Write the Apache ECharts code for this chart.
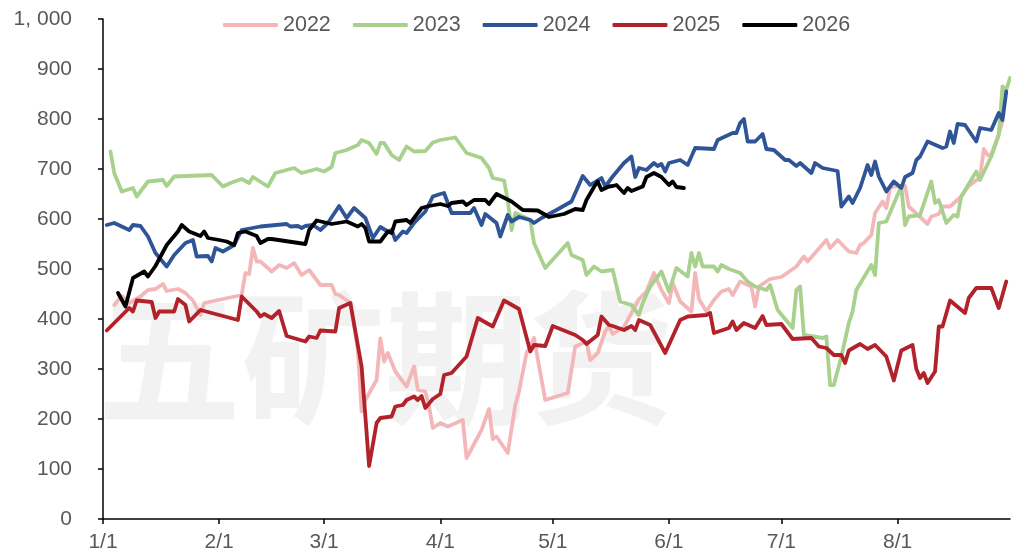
<!DOCTYPE html>
<html>
<head>
<meta charset="utf-8">
<script src="https://cdn.jsdelivr.net/npm/echarts@6/dist/echarts.min.js"></script>
<style>
  html, body { margin: 0; padding: 0; background: #fff; }
  #chart { width: 1011px; height: 555px; }
</style>
</head>
<body>
<div id="chart"></div>
<script>
// all years drawn on a common 2026 calendar, dates are month/day
var years = ['2022', '2023', '2024', '2025', '2026'];
var colors = ['#f4b7b9', '#a9d18e', '#2f5597', '#b2222a', '#000000'];
var monthTicks = ['1/1', '2/1', '3/1', '4/1', '5/1', '6/1', '7/1', '8/1'];

var d2022 = ['1/4','1/6','1/8','1/11','1/13','1/15','1/17','1/18','1/21','1/23','1/25','1/27','1/28','2/7','2/8','2/9','2/10','2/11','2/12','2/15','2/17','2/19','2/21','2/23','2/25','2/28','3/3','3/4','3/5','3/8','3/10','3/11','3/12','3/15','3/16','3/17','3/18','3/20','3/23','3/25','3/26','3/28','3/29','3/30','4/1','4/3','4/7','4/8','4/12','4/14','4/15','4/16','4/19','4/21','4/22','4/24','4/25','4/26','4/29','5/5','5/7','5/10','5/11','5/13','5/15','5/16','5/17','5/20','5/22','5/24','5/26','5/28','5/30','6/1','6/2','6/4','6/7','6/8','6/9','6/11','6/13','6/15','6/17','6/18','6/20','6/23','6/24','6/25','6/28','7/1','7/5','7/7','7/8','7/13','7/14','7/16','7/19','7/21','7/22','7/23','7/25','7/26','7/28','7/29','7/30','7/31','8/3','8/4','8/5','8/9','8/10','8/12','8/13','8/15','8/18','8/20','8/23','8/24','8/25','8/26','8/28','8/29'];
var v2022 = [428,446,432,445,458,460,470,456,460,452,437,408,432,448,492,490,542,515,515,495,508,502,512,488,498,468,468,450,448,432,338,215,238,278,361,315,332,295,265,305,258,255,225,182,192,185,198,122,178,220,160,165,132,228,255,332,345,362,238,252,345,355,318,332,375,385,370,384,412,440,455,492,458,432,472,435,415,492,440,415,438,455,460,448,475,465,425,465,480,484,505,525,515,558,542,558,535,532,548,552,568,612,635,622,662,665,666,625,618,590,605,610,625,625,645,666,683,740,728,728,770,795];

var d2023 = ['1/3','1/4','1/6','1/9','1/10','1/13','1/17','1/18','1/20','1/30','2/2','2/4','2/7','2/9','2/10','2/14','2/16','2/21','2/23','2/27','3/1','3/3','3/4','3/7','3/10','3/11','3/13','3/15','3/16','3/17','3/19','3/21','3/23','3/25','3/28','3/30','4/1','4/5','4/8','4/12','4/14','4/15','4/18','4/19','4/20','4/21','4/25','4/26','4/29','5/5','5/6','5/9','5/10','5/12','5/14','5/17','5/19','5/22','5/24','5/25','5/27','5/30','6/1','6/3','6/6','6/7','6/8','6/9','6/10','6/13','6/14','6/15','6/17','6/20','6/22','6/24','6/27','6/28','6/30','7/4','7/5','7/6','7/7','7/12','7/13','7/14','7/15','7/17','7/19','7/20','7/21','7/25','7/26','7/27','7/29','8/1','8/2','8/3','8/4','8/7','8/10','8/11','8/12','8/14','8/16','8/17','8/18','8/22','8/23','8/26','8/28','8/29','8/30','8/31'];
var v2023 = [735,692,655,662,645,675,678,666,685,688,665,672,680,672,684,665,692,702,692,700,695,704,732,738,748,758,752,730,752,752,728,718,745,735,736,753,758,763,732,722,702,682,677,638,578,612,598,552,502,552,528,518,488,505,495,498,435,428,408,432,465,495,455,502,485,532,505,532,505,505,495,508,500,492,475,465,458,468,418,382,458,465,368,362,365,268,268,325,392,415,458,508,488,592,595,648,665,588,605,608,675,632,638,592,608,605,645,695,678,725,768,865,858,882];

var d2024 = ['1/2','1/4','1/8','1/9','1/11','1/13','1/15','1/18','1/20','1/23','1/25','1/26','1/29','1/30','1/31','2/2','2/5','2/7','2/12','2/19','2/20','2/22','2/23','2/24','2/26','2/28','3/2','3/5','3/7','3/9','3/12','3/14','3/16','3/18','3/19','3/20','3/22','3/23','3/25','3/28','3/30','4/1','4/2','4/4','4/9','4/10','4/12','4/13','4/16','4/17','4/19','4/20','4/22','4/25','4/26','4/28','5/2','5/6','5/9','5/11','5/14','5/15','5/17','5/20','5/22','5/23','5/24','5/26','5/28','5/29','5/30','5/31','6/1','6/4','6/6','6/8','6/13','6/14','6/18','6/19','6/20','6/21','6/22','6/24','6/26','6/27','6/29','7/2','7/3','7/5','7/6','7/9','7/10','7/12','7/16','7/17','7/19','7/20','7/22','7/24','7/25','7/26','7/27','7/29','7/31','8/2','8/3','8/5','8/6','8/7','8/9','8/13','8/14','8/15','8/16','8/17','8/19','8/22','8/23','8/26','8/28','8/29','8/30'];
var v2024 = [588,592,578,588,586,565,532,505,528,552,558,525,526,515,542,535,548,578,585,590,585,586,582,586,588,578,592,626,602,622,602,562,584,575,578,558,575,572,592,615,645,650,652,612,612,622,588,610,592,565,608,595,604,598,592,602,618,635,686,668,682,665,685,712,725,684,702,698,712,706,710,695,712,718,708,742,740,758,772,772,792,800,755,755,770,740,738,718,718,706,712,692,712,702,696,625,645,632,662,708,688,715,685,655,675,662,684,692,718,725,755,742,745,775,752,790,788,755,782,778,812,798,855];

var d2025 = ['1/2','1/8','1/9','1/10','1/14','1/15','1/16','1/20','1/21','1/23','1/24','1/27','2/6','2/7','2/11','2/12','2/13','2/15','2/17','2/19','2/24','2/25','2/27','2/28','3/4','3/5','3/8','3/11','3/13','3/15','3/16','3/19','3/20','3/22','3/23','3/25','3/26','3/27','3/28','3/30','4/1','4/2','4/4','4/8','4/11','4/15','4/18','4/22','4/25','4/26','4/29','5/1','5/7','5/9','5/10','5/13','5/14','5/16','5/17','5/20','5/22','5/23','5/24','5/27','5/31','6/4','6/6','6/11','6/12','6/13','6/17','6/18','6/19','6/21','6/24','6/26','6/27','7/1','7/4','7/9','7/11','7/13','7/15','7/17','7/18','7/19','7/22','7/24','7/26','7/29','7/31','8/2','8/5','8/6','8/7','8/8','8/9','8/11','8/12','8/13','8/15','8/19','8/20','8/22','8/26','8/28','8/30'];
var v2025 = [377,422,415,437,434,402,415,415,440,428,395,418,398,445,415,405,410,402,416,366,355,365,362,377,375,422,432,305,106,192,202,205,225,228,238,245,238,246,222,240,250,288,292,325,402,385,437,420,335,348,346,386,368,358,350,368,405,388,386,378,386,378,398,388,332,398,405,408,412,372,382,395,378,392,382,406,388,390,360,362,345,342,328,328,312,337,350,340,348,325,277,337,348,300,282,292,272,295,385,385,437,412,442,462,462,422,475];

var d2026 = ['1/5','1/7','1/9','1/12','1/13','1/15','1/18','1/21','1/22','1/24','1/27','1/28','1/29','2/1','2/3','2/5','2/6','2/8','2/11','2/12','2/14','2/15','2/24','2/25','2/27','3/3','3/7','3/10','3/11','3/12','3/13','3/16','3/17','3/18','3/19','3/20','3/23','3/24','3/27','3/29','4/1','4/3','4/4','4/7','4/8','4/10','4/13','4/14','4/16','4/20','4/23','4/27','4/30','5/4','5/7','5/9','5/10','5/12','5/13','5/14','5/16','5/17','5/18','5/20','5/21','5/22','5/25','5/26','5/28','5/30','6/1','6/2','6/3','6/5'];
var v2026 = [452,425,482,495,485,506,548,575,588,575,566,575,562,558,555,548,572,575,566,552,560,560,550,578,597,590,595,585,590,582,555,555,565,575,572,595,598,592,622,626,630,626,632,635,628,638,638,630,650,635,618,617,604,610,620,618,638,664,675,658,665,666,668,652,662,656,665,684,692,684,668,675,664,662];

var dates = [d2022, d2023, d2024, d2025, d2026];
var values = [v2022, v2023, v2024, v2025, v2026];

function toTime(md) {
  var p = md.split('/');
  return +new Date(2026, +p[0] - 1, +p[1]);
}

var tickValues = monthTicks.map(toTime);
var font = '"Liberation Sans", Arial, sans-serif';

var series = years.map(function (y, i) {
  return {
    name: y,
    type: 'line',
    showSymbol: false,
    symbol: 'none',
    data: dates[i].map(function (d, k) { return [toTime(d), values[i][k]]; }),
    lineStyle: { color: colors[i], width: 3.8, cap: 'round', join: 'round' },
    itemStyle: { color: colors[i] },
    emphasis: { disabled: true }
  };
});

var chart = echarts.init(document.getElementById('chart'));
chart.setOption({
  animation: false,
  backgroundColor: '#ffffff',
  graphic: [{
    type: 'text',
    z: -10,
    silent: true,
    style: {
      text: '五矿期货',
      x: 385,
      y: 358,
      align: 'center',
      verticalAlign: 'middle',
      font: 'bold 144px "Noto Sans CJK SC"',
      fill: '#f2f2f2'
    }
  }],
  legend: {
    left: 218,
    top: 9,
    icon: 'roundRect',
    itemWidth: 55,
    itemHeight: 4,
    itemGap: 22,
    textStyle: { fontSize: 21.5, color: '#595959', fontFamily: font },
    data: years
  },
  grid: { left: 103, right: 1, top: 19, bottom: 36 },
  xAxis: {
    type: 'value',
    min: toTime('1/1'),
    max: toTime('8/31'),
    splitLine: { show: false },
    axisLine: { lineStyle: { color: '#000', width: 1.5 } },
    axisTick: { show: true, length: 5, customValues: tickValues, lineStyle: { color: '#000', width: 1.5 } },
    axisLabel: {
      customValues: tickValues,
      margin: 13,
      fontSize: 21,
      color: '#595959',
      fontFamily: font,
      formatter: function (v) {
        var d = new Date(v);
        return (d.getMonth() + 1) + '/' + d.getDate();
      }
    }
  },
  yAxis: {
    type: 'value',
    min: 0,
    max: 1000,
    interval: 100,
    splitLine: { show: false },
    axisLine: { show: true, lineStyle: { color: '#000', width: 1.5 } },
    axisTick: { show: true, length: 5, lineStyle: { color: '#000', width: 1.5 } },
    axisLabel: {
      margin: 31,
      fontSize: 21,
      color: '#595959',
      fontFamily: font,
      formatter: function (v) {
        return String(v).replace(/\B(?=(\d{3})+(?!\d))/g, ', ');
      }
    }
  },
  series: series
});
</script>
</body>
</html>
